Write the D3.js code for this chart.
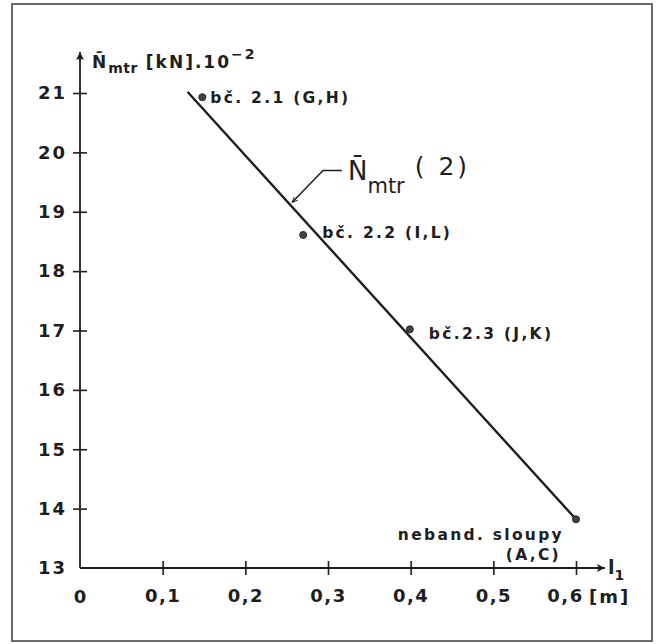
<!DOCTYPE html>
<html>
<head>
<meta charset="utf-8">
<script src="https://cdn.jsdelivr.net/npm/d3@7"></script>
<style>
  body { margin: 0; background: #fff; }
  text { font-family: 'DejaVu Sans', sans-serif; fill: #1e1e1e; }
</style>
</head>
<body>
<script>
// data
const xTicks = [0, 0.1, 0.2, 0.3, 0.4, 0.5, 0.6]
const xTickLabels = ['0', '0,1', '0,2', '0,3', '0,4', '0,5', '0,6']
const yTicks = [13, 14, 15, 16, 17, 18, 19, 20, 21]
const pointNames = ['bč. 2.1 (G,H)', 'bč. 2.2 (I,L)', 'bč.2.3 (J,K)', 'neband. sloupy']
const pointL1 = [0.148, 0.270, 0.399, 0.600]
const pointN = [20.93, 18.61, 17.02, 13.82]
const lineL1 = [0.130, 0.600]
const lineN = [21.02, 13.82]

const W = 662, H = 644
const margin = { top: 93, right: 86, bottom: 76, left: 80 }
const width = W - margin.left - margin.right
const height = H - margin.top - margin.bottom

const root = d3.select('body').append('svg')
  .attr('width', W)
  .attr('height', H)

root.append('rect')
  .attr('x', 12).attr('y', 4)
  .attr('width', 640).attr('height', 637)
  .style('fill', 'none')
  .style('stroke', '#3a3a3a')
  .style('stroke-width', 1.5)

const defs = root.append('defs')
defs.append('marker')
  .attr('id', 'head')
  .attr('viewBox', '0 0 10 10')
  .attr('refX', 10).attr('refY', 5)
  .attr('markerWidth', 12).attr('markerHeight', 8)
  .attr('markerUnits', 'userSpaceOnUse')
  .attr('orient', 'auto')
  .append('path')
  .attr('d', 'M0,0L10,5L0,10L2,5Z')
  .style('fill', '#1e1e1e')
defs.append('marker')
  .attr('id', 'small')
  .attr('viewBox', '0 0 10 10')
  .attr('refX', 10).attr('refY', 5)
  .attr('markerWidth', 6).attr('markerHeight', 6)
  .attr('markerUnits', 'userSpaceOnUse')
  .attr('orient', 'auto')
  .append('path')
  .attr('d', 'M0,1L10,5L0,9')
  .style('fill', 'none')
  .style('stroke', '#1e1e1e')
  .style('stroke-width', 1.5)

const svg = root.append('g')
  .attr('transform', `translate(${margin.left}, ${margin.top})`)

const xScale = d3.scaleLinear().domain([0, 0.6]).range([0, width])
const yScale = d3.scaleLinear().domain([13, 21]).range([height, 0])

// axes
const xAxis = svg.append('g')
  .attr('class', 'x axis')
  .attr('transform', `translate(0, ${height})`)
  .call(d3.axisBottom(xScale)
    .tickValues(xTicks.slice(1))
    .tickSize(7)
    .tickPadding(14)
    .tickFormat((d, i) => xTickLabels[i + 1]))
xAxis.select('.domain').remove()
xAxis.selectAll('.tick line').attr('y1', -7).style('stroke', '#1e1e1e').style('stroke-width', 1.6)
xAxis.selectAll('.tick text')
  .style('font-size', '18px').style('font-weight', 'bold').style('letter-spacing', '1.5px')
  .style('fill', '#1e1e1e')
  .attr('dx', (d, i) => i === xTicks.length - 2 ? -11 : 0)

svg.append('text')
  .attr('x', xScale(0))
  .attr('y', height + 35)
  .attr('text-anchor', 'middle')
  .style('font-size', '18px').style('font-weight', 'bold')
  .text(xTickLabels[0])

const yAxis = svg.append('g')
  .attr('class', 'y axis')
  .call(d3.axisLeft(yScale)
    .tickValues(yTicks)
    .tickSize(7)
    .tickPadding(6))
yAxis.select('.domain').remove()
yAxis.selectAll('.tick line')
  .attr('x1', d => d === 13 ? 0 : 7)
  .attr('x2', d => d === 13 ? 0 : -7)
  .style('stroke', '#1e1e1e').style('stroke-width', 1.6)
yAxis.selectAll('.tick text')
  .style('font-size', '18px').style('font-weight', 'bold').style('letter-spacing', '2px')
  .style('fill', '#1e1e1e')

svg.append('line')
  .attr('x1', 0).attr('y1', height)
  .attr('x2', 0).attr('y2', -41)
  .attr('marker-end', 'url(#head)')
  .style('stroke', '#1e1e1e').style('stroke-width', 1.8)

svg.append('line')
  .attr('x1', 0).attr('y1', height)
  .attr('x2', width + 29).attr('y2', height)
  .attr('marker-end', 'url(#head)')
  .style('stroke', '#1e1e1e').style('stroke-width', 1.8)

// axis titles
const yTitle = svg.append('text')
  .attr('x', 12).attr('y', -25)
  .style('font-size', '17px').style('font-weight', 'bold').style('letter-spacing', '2px')
yTitle.append('tspan').text('N\u0304')
yTitle.append('tspan').attr('dy', 5).style('font-size', '14px').style('letter-spacing', '0.5px').text('mtr')
yTitle.append('tspan').attr('dy', -5).text(' [kN].10')
yTitle.append('tspan').attr('dy', -9).style('font-size', '14px').text('\u22122')

const xTitle = svg.append('text')
  .attr('x', width + 32).attr('y', height + 6)
  .style('font-size', '19px').style('font-weight', 'bold')
xTitle.append('tspan').text('l')
xTitle.append('tspan').attr('dy', 6).style('font-size', '14px').text('1')

svg.append('text')
  .attr('x', width + 13).attr('y', height + 35)
  .style('font-size', '18px').style('font-weight', 'bold').style('letter-spacing', '2px')
  .text('[m]')

// regression line
const line = d3.line()
  .x(d => xScale(d[0]))
  .y(d => yScale(d[1]))

svg.append('path')
  .datum(d3.zip(lineL1, lineN))
  .attr('class', 'line')
  .attr('d', line)
  .style('stroke', '#1e1e1e')
  .style('fill', 'none')
  .style('stroke-width', 2.4)

// measured points
const pts = d3.zip(pointL1, pointN, pointNames)
svg.selectAll('.circle')
  .data(pts)
  .enter().append('circle')
  .attr('class', 'circle')
  .attr('cx', d => xScale(d[0]))
  .attr('cy', d => yScale(d[1]))
  .attr('r', 3.5)
  .style('fill', '#444')
  .style('stroke', '#222')
  .style('stroke-width', 1)

const offsets = [[8, 6, 'start'], [19, 3, 'start'], [19, 10, 'start'], [-12, 21, 'end']]
svg.selectAll('.plabel')
  .data(pts)
  .enter().append('text')
  .attr('class', 'plabel')
  .attr('x', (d, i) => xScale(d[0]) + offsets[i][0])
  .attr('y', (d, i) => yScale(d[1]) + offsets[i][1])
  .attr('text-anchor', (d, i) => offsets[i][2])
  .style('font-size', '15.5px').style('font-weight', 'bold').style('letter-spacing', '2.3px')
  .text(d => d[2])

svg.append('text')
  .attr('x', xScale(pointL1[3]) - 15)
  .attr('y', yScale(pointN[3]) + 41)
  .attr('text-anchor', 'end')
  .style('font-size', '15.5px').style('font-weight', 'bold').style('letter-spacing', '2.3px')
  .text('(A,C)')

// N_mtr (2) leader
const tAt = 0.254
const nAt = lineN[0] + (tAt - lineL1[0]) / (lineL1[1] - lineL1[0]) * (lineN[1] - lineN[0])
const lx = xScale(tAt), ly = yScale(nAt)
svg.append('path')
  .attr('d', `M${lx + 52},${ly - 34}H${lx + 33}L${lx + 2},${ly - 2}`)
  .attr('marker-end', 'url(#small)')
  .style('fill', 'none')
  .style('stroke', '#1e1e1e')
  .style('stroke-width', 1.5)

const note = svg.append('text')
  .attr('x', lx + 58).attr('y', ly - 25)
  .style('font-size', '26px')
note.append('tspan').text('N\u0304')
note.append('tspan').attr('dy', 13).style('font-size', '21px').text('mtr')
note.append('tspan').attr('dy', -18).attr('dx', 10).style('font-size', '25px').style('letter-spacing', '3px').text('( 2)')
</script>
</body>
</html>
